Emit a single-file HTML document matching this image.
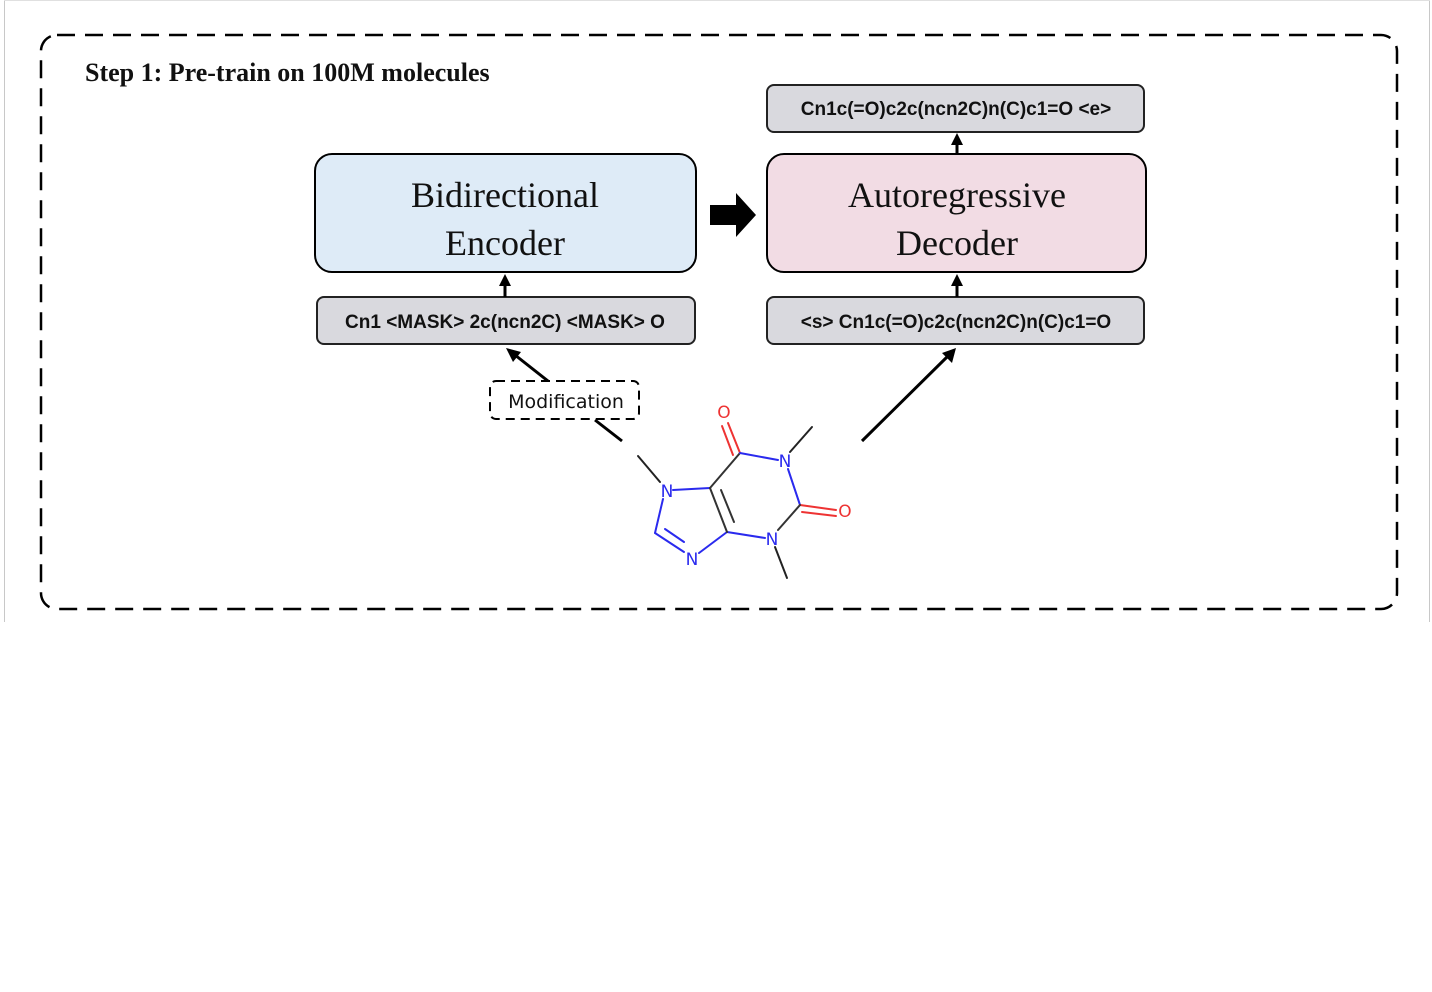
<!DOCTYPE html>
<html><head><meta charset="utf-8"><style>
body{margin:0;background:#fff;}
svg{display:block;}
</style></head><body>
<svg width="1432" height="992" viewBox="0 0 1432 992" xmlns="http://www.w3.org/2000/svg">
<rect x="0" y="0" width="1432" height="992" fill="#fff"/>
<line x1="4.5" y1="0" x2="4.5" y2="622" stroke="#c8c8c8" stroke-width="1"/>
<line x1="1429.5" y1="0" x2="1429.5" y2="622" stroke="#c8c8c8" stroke-width="1"/>
<line x1="4" y1="0.5" x2="1430" y2="0.5" stroke="#e0e0e0" stroke-width="1"/>
<rect x="41" y="35" width="1356" height="574" rx="16" fill="none" stroke="#000" stroke-width="2.5" stroke-dasharray="18 10"/>
<text x="85" y="81" font-family="Liberation Serif, serif" font-weight="bold" font-size="26" fill="#111">Step 1: Pre-train on 100M molecules</text>

<rect x="315" y="154" width="381" height="118" rx="17" fill="#deebf7" stroke="#000" stroke-width="2"/>
<text x="505" y="207" text-anchor="middle" font-family="Liberation Serif, serif" font-size="36" fill="#111">Bidirectional</text>
<text x="505" y="255" text-anchor="middle" font-family="Liberation Serif, serif" font-size="36" fill="#111">Encoder</text>
<rect x="767" y="154" width="379" height="118" rx="17" fill="#f2dce4" stroke="#000" stroke-width="2"/>
<text x="957" y="207" text-anchor="middle" font-family="Liberation Serif, serif" font-size="36" fill="#111">Autoregressive</text>
<text x="957" y="255" text-anchor="middle" font-family="Liberation Serif, serif" font-size="36" fill="#111">Decoder</text>

<g font-family="Liberation Sans, sans-serif" font-weight="bold" font-size="19" fill="#111" text-anchor="middle">
<rect x="767" y="85" width="377" height="47" rx="7" fill="#d9d9de" stroke="#222" stroke-width="2"/>
<text x="956" y="115">Cn1c(=O)c2c(ncn2C)n(C)c1=O &lt;e&gt;</text>
<rect x="317" y="297" width="378" height="47" rx="7" fill="#d9d9de" stroke="#222" stroke-width="2"/>
<text x="505" y="328">Cn1 &lt;MASK&gt; 2c(ncn2C) &lt;MASK&gt; O</text>
<rect x="767" y="297" width="377" height="47" rx="7" fill="#d9d9de" stroke="#222" stroke-width="2"/>
<text x="956" y="328">&lt;s&gt; Cn1c(=O)c2c(ncn2C)n(C)c1=O</text>
</g>

<g stroke="#000" stroke-width="3" fill="#000">
<line x1="505" y1="297" x2="505" y2="284"/><polygon points="505,274 499,286 511,286" stroke="none"/>
<line x1="957" y1="297" x2="957" y2="284"/><polygon points="957,274 951,286 963,286" stroke="none"/>
<line x1="957" y1="154" x2="957" y2="143"/><polygon points="957,133 951,145 963,145" stroke="none"/>
<polygon points="710,205 736,205 736,193 756,215 736,237 736,225 710,225" stroke="none"/>
<line x1="548" y1="381" x2="515" y2="355"/><polygon points="506,348 521,352 513,362" stroke="none"/>
<line x1="622" y1="441" x2="595" y2="420"/>
<line x1="862" y1="441" x2="948" y2="356"/><polygon points="956,348 952,363 942,353" stroke="none"/>
</g>

<rect x="490" y="381" width="149" height="38" rx="6" fill="#fff" stroke="#000" stroke-width="2" stroke-dasharray="9 6"/>
<text x="566" y="408" text-anchor="middle" font-family="DejaVu Sans, sans-serif" font-size="19" fill="#111">Modification</text>

<g stroke-width="2" fill="none" stroke-linecap="round">
<line x1="638" y1="456" x2="660" y2="482" stroke="#222"/>
<line x1="673" y1="490" x2="710" y2="488" stroke="#2a2aee"/>
<line x1="663" y1="499" x2="655" y2="533" stroke="#2a2aee"/>
<line x1="655" y1="533" x2="684" y2="552" stroke="#2a2aee"/>
<line x1="665" y1="529" x2="684" y2="542" stroke="#2a2aee"/>
<line x1="699" y1="553" x2="727" y2="532" stroke="#2a2aee"/>
<line x1="727" y1="532" x2="765" y2="538" stroke="#2a2aee"/>
<line x1="727" y1="532" x2="710" y2="488" stroke="#333"/>
<line x1="734" y1="522" x2="721" y2="490" stroke="#333"/>
<line x1="710" y1="488" x2="740" y2="453" stroke="#333"/>
<line x1="740" y1="453" x2="728" y2="423" stroke="#e33"/>
<line x1="733" y1="455" x2="722" y2="426" stroke="#e33"/>
<line x1="740" y1="453" x2="778" y2="460" stroke="#2a2aee"/>
<line x1="790" y1="452" x2="812" y2="427" stroke="#222"/>
<line x1="788" y1="469" x2="800" y2="505" stroke="#2a2aee"/>
<line x1="800" y1="505" x2="836" y2="510" stroke="#e33"/>
<line x1="802" y1="512" x2="836" y2="516" stroke="#e33"/>
<line x1="800" y1="505" x2="778" y2="530" stroke="#333"/>
<line x1="775" y1="547" x2="787" y2="578" stroke="#222"/>
</g>
<g font-family="DejaVu Sans, sans-serif" font-size="17" text-anchor="middle">
<text x="667" y="497" fill="#2a2aee">N</text>
<text x="692" y="565" fill="#2a2aee">N</text>
<text x="785" y="467" fill="#2a2aee">N</text>
<text x="772" y="545" fill="#2a2aee">N</text>
<text x="724" y="418" fill="#e33">O</text>
<text x="845" y="517" fill="#e33">O</text>
</g>
</svg>
</body></html>
